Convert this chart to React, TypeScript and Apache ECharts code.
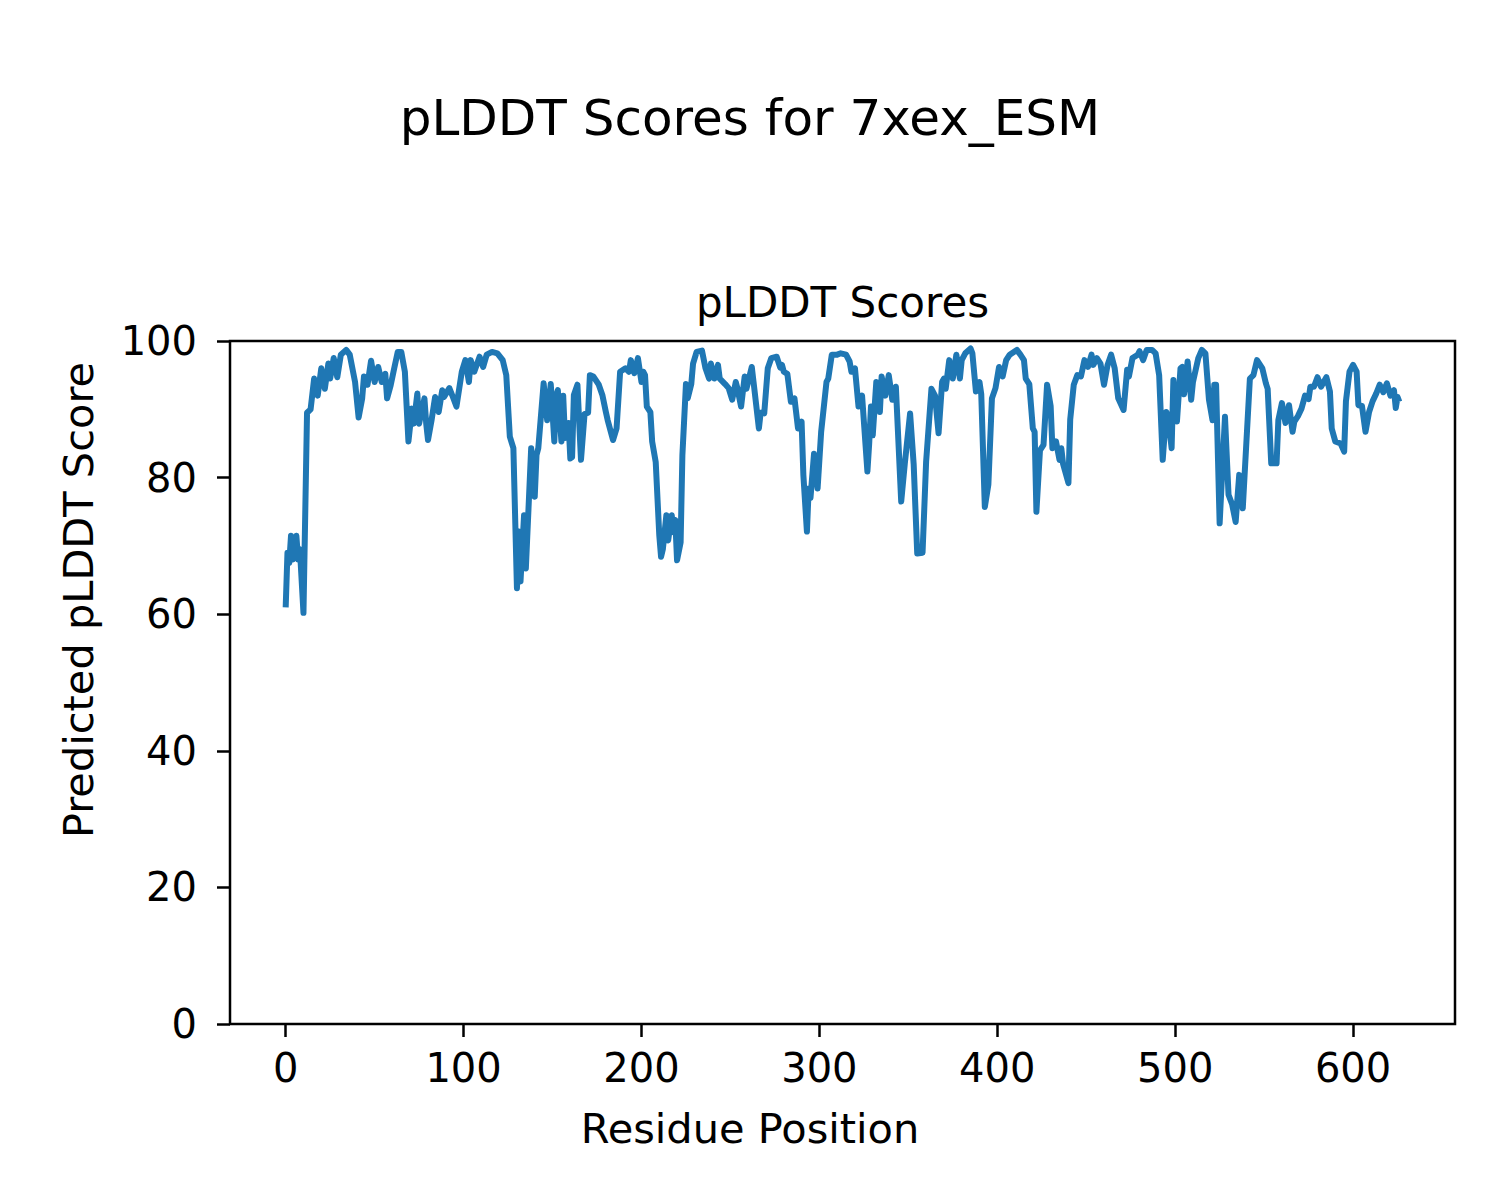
import React, { useEffect, useRef } from "react";
import * as echarts from "echarts";

const suptitle = "pLDDT Scores for 7xex_ESM";
const subtitle = "pLDDT Scores";
const xLabel = "Residue Position";
const yLabel = "Predicted pLDDT Score";

const xTicks = [0, 100, 200, 300, 400, 500, 600];
const yTickInterval = 20;

const residues = [
  0, 1, 2, 3, 4, 6, 7, 8, 10, 12, 14, 16, 18, 20, 22, 24, 25, 27, 29, 31, 34, 36, 39, 41, 43, 44, 46, 48, 50, 52, 54, 56, 57, 59, 61, 63, 65, 67, 69, 71, 72, 74, 75, 78, 79, 80, 82, 84, 86, 88, 89, 92, 94, 96, 99,
  101, 103, 104, 106, 109, 111, 113, 116, 119, 122, 124, 126, 128, 130, 131, 132, 134, 135, 138, 140, 141, 142, 145, 147, 149, 151, 152, 153, 155, 156, 157, 159, 160, 161, 162, 164, 166, 168, 170, 171, 173, 176, 178, 180, 181, 184, 186, 188, 191, 193, 194, 196, 198,
  200, 201, 202, 203, 205, 206, 208, 210, 211, 212, 214, 215, 217, 218, 219, 220, 222, 223, 225, 226, 228, 229, 231, 234, 236, 238, 239, 241, 243, 244, 247, 249, 251, 253, 254, 256, 258, 259, 262, 263, 266, 267, 269, 271, 273, 276, 278, 279, 280, 282, 284, 286, 288, 290, 291, 293, 294, 295, 297, 299,
  301, 304, 305, 307, 310, 312, 315, 317, 318, 320, 322, 324, 327, 328, 329, 330, 332, 334, 335, 337, 339, 341, 343, 346, 348, 351, 353, 355, 358, 360, 363, 365, 367, 369, 370, 371, 373, 375, 377, 379, 380, 382, 385, 386, 388, 390, 391, 393, 395, 397, 399,
  401, 403, 405, 407, 411, 413, 415, 416, 418, 420, 421, 422, 424, 426, 428, 430, 431, 433, 435, 436, 437, 440, 441, 443, 445, 447, 449, 451, 453, 454, 456, 458, 460, 462, 464, 466, 468, 471, 473, 474, 476, 479, 480, 482, 484, 487, 489, 491, 493, 495, 496, 498, 499,
  501, 503, 504, 505, 507, 509, 510, 513, 515, 517, 519, 521, 522, 523, 525, 528, 530, 532, 534, 536, 538, 540, 542, 544, 546, 549, 551, 552, 554, 557, 558, 560, 562, 564, 566, 567, 569, 571, 573, 575, 576, 578, 580, 582, 585, 587, 588, 590, 593, 595, 596, 598,
  600, 602, 603, 605, 607, 609, 611, 613, 615, 617, 619, 621, 623, 624, 625, 626,
];

const scores = [
  61, 69, 67.5, 71.5, 68, 71.5, 68, 69.5, 60.2, 89.5, 90, 94.5, 92, 96, 93, 96.7, 94.5, 97.5, 94.7, 98, 98.7, 98, 94, 88.8, 91.6, 94.8, 93.6, 97.1, 94, 96.2, 94, 95.2, 91.6, 93.5, 96, 98.4, 98.4, 95.5, 85.3, 90.1, 87.9, 92.3, 87.9, 91.6, 87.9, 85.5, 88.4, 91.8, 89.6, 92.8, 91.8, 93.1, 91.8, 90.4, 95.5,
  97.2, 94, 97.2, 95.5, 97.7, 96.2, 98, 98.4, 98.2, 97.2, 95, 86, 84.3, 63.8, 72.1, 64.8, 74.5, 66.7, 84.3, 77.2, 83.3, 84.3, 93.8, 88.4, 93.7, 85.3, 92, 92.8, 85.3, 92, 85.8, 88, 82.8, 83, 92.1, 93.6, 82.6, 89.3, 89.5, 95, 94.8, 93.6, 92.1, 89.6, 88.4, 85.5, 87.2, 95.5, 96, 95.5, 97.2, 95.3, 97.5,
  94, 95.5, 95, 90.4, 89.6, 85.3, 82.3, 71.6, 68.4, 69.5, 74.5, 70.8, 74.5, 72, 73.8, 67.9, 70.5, 83.3, 93.7, 91.6, 93.7, 96.7, 98.4, 98.6, 96, 94.5, 96.7, 94.5, 96.5, 94.5, 93.7, 93.1, 91.4, 94, 93, 90.4, 94.8, 93, 96.2, 94, 87.2, 89.5, 89.4, 96, 97.5, 97.7, 96.1, 96.5, 95.5, 95.2, 91.1, 91.6, 87.2, 88.2, 80.4, 72.1, 78.4, 77, 83.5, 78.4,
  86.7, 94, 94.5, 98, 98, 98.2, 98, 97, 95.5, 96, 90.4, 92, 80.9, 85, 90.4, 86.2, 94, 89.6, 94.8, 92, 95, 91.4, 93.3, 76.5, 82, 89.4, 82, 68.9, 69, 82.3, 93, 92, 86.5, 94, 94.5, 93, 97.2, 94.5, 98, 94.5, 97.2, 98.2, 98.9, 98.2, 92.6, 94, 92.2, 75.7, 79, 91.6, 93.1,
  96.2, 94.8, 97.2, 98, 98.7, 98, 97.2, 94.5, 93.7, 87.2, 86.7, 75, 84, 84.8, 93.6, 90.5, 84.3, 85.3, 82.6, 84.3, 82, 79.2, 88.5, 93.6, 95, 94.8, 97.2, 96.2, 98, 96.5, 97.5, 96.7, 93.6, 96.5, 98, 96, 91.6, 89.9, 95.8, 94.8, 97.5, 98, 98.5, 97.2, 98.7, 98.7, 98.2, 95, 82.6, 89.6, 89, 84.3, 94.3,
  88.2, 96, 96.2, 92.2, 97, 91.4, 94, 97.5, 98.7, 98.2, 91.4, 88.4, 93.6, 93.6, 73.3, 88.9, 77.5, 76.1, 73.5, 80.4, 75.5, 85, 94.5, 95, 97.2, 96, 93.8, 93, 82.1, 82.1, 88.4, 90.9, 88, 90.6, 86.7, 88.2, 89, 90.1, 92, 91.5, 93.3, 93.3, 94.7, 93.3, 94.7, 92.6, 87.2, 85.3, 85, 83.8, 91.2, 95.5,
  96.5, 95.5, 90.6, 90.5, 86.7, 89.6, 91.2, 92.3, 93.6, 92.5, 93.8, 92, 92.8, 90.2, 91.8, 91.1,
];

const FONT = "DejaVu Sans";

export default function App() {
  const ref = useRef<HTMLDivElement>(null);
  useEffect(() => {
    if (!ref.current) return;
    const chart = echarts.init(ref.current, null, { renderer: "svg" });
    const data = residues.map((r, i) => [r, scores[i]]);
    const left = 230, top = 341, right = 1455, bottom = 1024;
    chart.setOption({
      animation: false,
      backgroundColor: "#ffffff",
      textStyle: { fontFamily: FONT },
      grid: {
        left,
        top,
        width: right - left,
        height: bottom - top,
        containLabel: false,
        outerBoundsMode: "none",
        show: true,
        borderColor: "#000000",
        borderWidth: 2.5,
        backgroundColor: "transparent",
      },
      xAxis: {
        type: "value",
        min: -31.3,
        max: 657.3,
        axisLine: { show: false, onZero: false },
        splitLine: { show: false },
        axisTick: {
          show: true,
          inside: false,
          length: 13,
          lineStyle: { color: "#000", width: 2.5 },
          customValues: xTicks,
        },
        axisLabel: {
          show: true,
          margin: 24,
          color: "#000",
          fontSize: 40,
          fontFamily: FONT,
          customValues: xTicks,
        },
      },
      yAxis: {
        type: "value",
        min: 0,
        max: 100,
        interval: yTickInterval,
        axisLine: { show: false, onZero: false },
        splitLine: { show: false },
        axisTick: {
          show: true,
          inside: false,
          length: 13,
          lineStyle: { color: "#000", width: 2.5 },
        },
        axisLabel: {
          show: true,
          margin: 33,
          color: "#000",
          fontSize: 40,
          fontFamily: FONT,
        },
      },
      series: [
        {
          type: "line",
          data,
          showSymbol: false,
          symbol: "none",
          lineStyle: { color: "#1f77b4", width: 6, join: "round", cap: "butt" },
          itemStyle: { color: "#1f77b4" },
          z: 1,
        },
      ],
      graphic: [
        {
          type: "text",
          x: 750,
          y: 118,
          style: {
            text: suptitle,
            fontSize: 50,
            fontFamily: FONT,
            fill: "#000",
            align: "center",
            verticalAlign: "middle",
          },
        },
        {
          type: "text",
          x: (left + right) / 2,
          y: 302,
          style: {
            text: subtitle,
            fontSize: 42,
            fontFamily: FONT,
            fill: "#000",
            align: "center",
            verticalAlign: "middle",
          },
        },
        {
          type: "text",
          x: 750,
          y: 1128,
          style: {
            text: xLabel,
            fontSize: 41.5,
            fontFamily: FONT,
            fill: "#000",
            align: "center",
            verticalAlign: "middle",
          },
        },
        {
          type: "text",
          x: 78,
          y: 600,
          rotation: Math.PI / 2,
          style: {
            text: yLabel,
            fontSize: 41.5,
            fontFamily: FONT,
            fill: "#000",
            align: "center",
            verticalAlign: "middle",
          },
        },
      ],
    });
    return () => chart.dispose();
  }, []);
  return (
    <div
      ref={ref}
      style={{ position: "absolute", left: 0, top: 0, width: 1500, height: 1200 }}
    />
  );
}
